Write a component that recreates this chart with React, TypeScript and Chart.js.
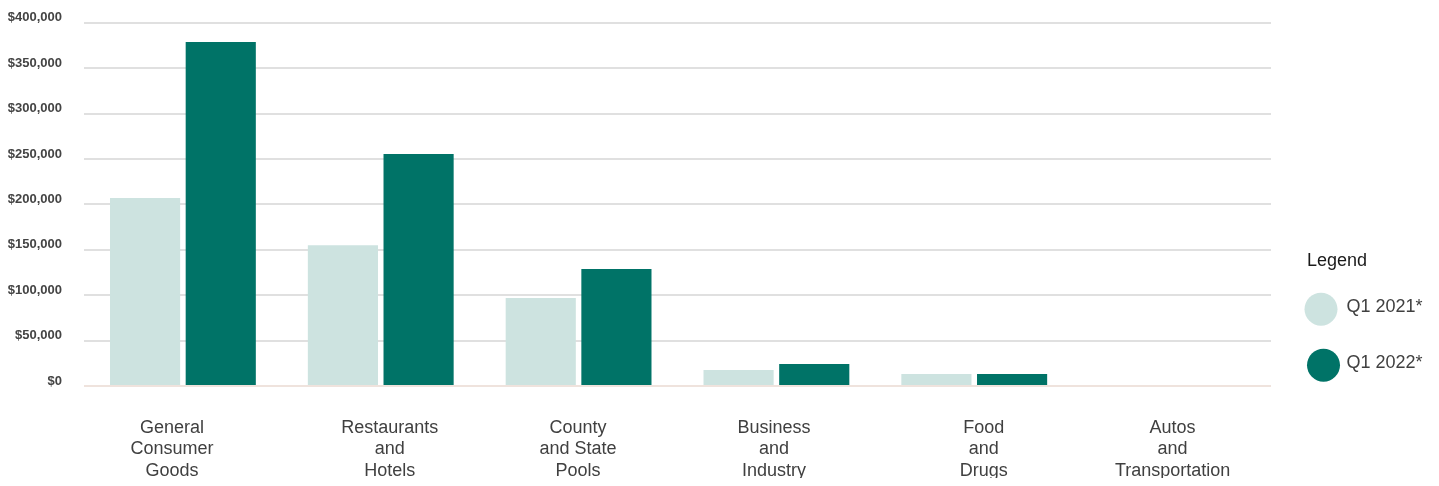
import React, { useEffect, useRef } from "react";
import { Chart, registerables } from "chart.js";

Chart.register(...registerables);

const categories: string[][] = [
  ["General", "Consumer", "Goods"],
  ["Restaurants", "and", "Hotels"],
  ["County", "and State", "Pools"],
  ["Business", "and", "Industry"],
  ["Food", "and", "Drugs"],
  ["Autos", "and", "Transportation"],
];

const seriesNames = ["Q1 2021*", "Q1 2022*"];
const q1_2021 = [207000, 155000, 97000, 17600, 13200, 0];
const q1_2022 = [378700, 255400, 128800, 24200, 13200, 0];

const yMin = 0;
const yMax = 400000;
const yStep = 50000;

const colors = ["#cde3e0", "#007367"];

// small horizontal nudges of the category labels, as in the original layout
const labelNudge = [-11, 9, -0.5, -2.5, 9.5, 0.5];

const FONT = "'Liberation Sans', Arial, sans-serif";

const legendPlugin = {
  id: "customLegend",
  afterDraw(chart: any) {
    const { ctx, chartArea } = chart;
    const x0 = chartArea.right;
    const y0 = chartArea.top;
    ctx.save();
    ctx.textBaseline = "middle";
    ctx.textAlign = "left";
    ctx.font = `18px ${FONT}`;
    ctx.fillStyle = "#1a1a1a";
    ctx.fillText("Legend", x0 + 36, y0 + 238.5);
    const items = chart.data.datasets;
    const circleX = [x0 + 50, x0 + 52.5];
    items.forEach((ds: any, i: number) => {
      const cy = y0 + 286.5 + i * 56;
      ctx.beginPath();
      ctx.fillStyle = ds.backgroundColor;
      ctx.arc(circleX[i] ?? x0 + 51, cy, 16.5, 0, Math.PI * 2);
      ctx.fill();
      ctx.fillStyle = "#404040";
      ctx.fillText(ds.label, x0 + 75.5, cy - 2.5);
    });
    ctx.restore();
  },
};

export default function App() {
  const ref = useRef<HTMLCanvasElement | null>(null);

  useEffect(() => {
    if (!ref.current) return;
    const chart = new Chart(ref.current, {
      type: "bar",
      data: {
        labels: categories,
        datasets: [
          {
            label: seriesNames[0],
            data: q1_2021,
            backgroundColor: colors[0],
            categoryPercentage: 0.765,
            barPercentage: 0.927,
          },
          {
            label: seriesNames[1],
            data: q1_2022,
            backgroundColor: colors[1],
            categoryPercentage: 0.765,
            barPercentage: 0.927,
          },
        ],
      },
      options: {
        animation: false,
        responsive: true,
        maintainAspectRatio: false,
        layout: { padding: { top: 14.7, right: 160, left: 0, bottom: 2 } },
        plugins: {
          legend: { display: false },
          tooltip: { enabled: false },
        },
        scales: {
          x: {
            grid: { display: false, drawTicks: false },
            border: { display: false },
            afterFit: (s: any) => {
              s.paddingLeft = 0;
              s.paddingRight = 0;
              s.paddingTop = 0;
              s.paddingBottom = 0;
              s.height = 96;
            },
            afterUpdate: (s: any) => {
              if (s.__nudged) return;
              s.__nudged = true;
              const orig = s._computeLabelItems.bind(s);
              s._computeLabelItems = (ca: any) => {
                const items = orig(ca);
                items.forEach((it: any, i: number) => {
                  if (it.options && it.options.translation) {
                    it.options.translation[0] += labelNudge[i] || 0;
                  }
                });
                return items;
              };
            },
            ticks: {
              autoSkip: false,
              maxRotation: 0,
              minRotation: 0,
              padding: 31,
              color: "#404040",
              font: { family: FONT, size: 18, lineHeight: 1.2 },
            },
          },
          y: {
            min: yMin,
            max: yMax,
            border: { display: false },
            afterFit: (s: any) => {
              s.paddingTop = 0;
              s.paddingBottom = 0;
              s.paddingLeft = 0;
              s.paddingRight = 0;
              s.width = 76;
            },
            grid: {
              drawTicks: false,
              lineWidth: 2,
              color: (c: any) => (c.tick && c.tick.value === 0 ? "#efe3dd" : "#e0e0e0"),
            },
            ticks: {
              stepSize: yStep,
              padding: 22,
              labelOffset: -5,
              color: "#444444",
              font: { family: FONT, size: 13, weight: "bold" },
              callback: (v: any) => "$" + Number(v).toLocaleString("en-US"),
            },
          },
        },
      },
      plugins: [legendPlugin],
    });
    return () => chart.destroy();
  }, []);

  return (
    <div style={{ position: "relative", width: "100%", height: 476, marginBottom: -6 }}>
      <canvas ref={ref} />
    </div>
  );
}
